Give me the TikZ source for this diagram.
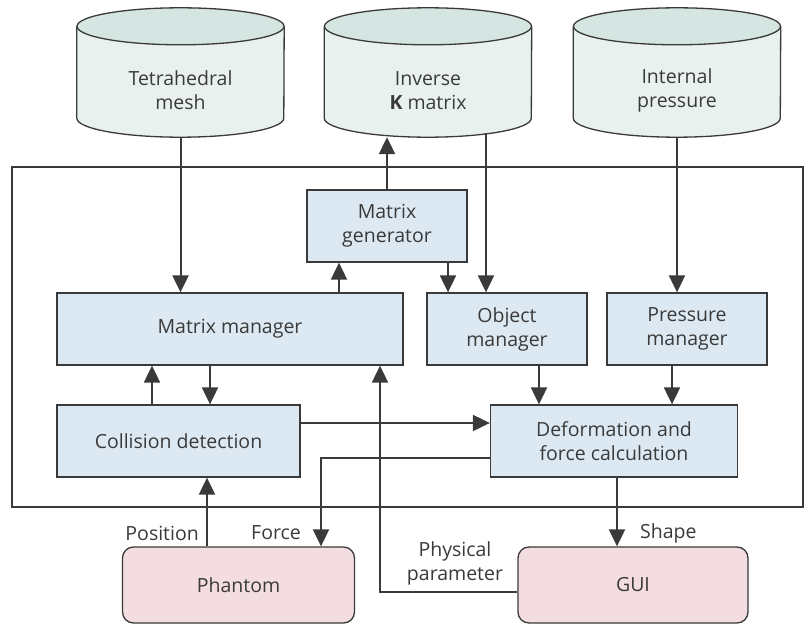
\documentclass[tikz,border=0pt]{standalone}
\usepackage{fontspec}
\setmainfont{Open Sans}
\usetikzlibrary{arrows.meta,backgrounds,positioning}
\definecolor{ink}{HTML}{3A3A3A}
\definecolor{boxblue}{HTML}{DDE9F2}
\definecolor{storebody}{HTML}{E9F1EF}
\definecolor{storetop}{HTML}{D5E5E1}
\definecolor{devpink}{HTML}{F4DDE0}
\tikzset{
  box/.style={draw=ink, line width=1.3pt, fill=boxblue, minimum height=72pt, align=center, inner sep=0pt},
  device/.style={box, fill=devpink, rounded corners=11pt, minimum height=76pt},
  store/.style={minimum width=207pt, minimum height=129pt, align=center, inner sep=0pt, text height=74pt},
  store body/.style={fill=storebody, draw=ink, line width=1.3pt},
  store top/.style={fill=storetop, draw=ink, line width=1.3pt},
  frame/.style={draw=ink, line width=1.5pt, minimum width=791pt, minimum height=340pt},
  arr/.style={draw=ink, line width=2pt, -{Triangle[length=17pt,width=16pt]}},
  lbl/.style={inner sep=0pt},
}
\begin{document}
\begin{tikzpicture}[x=1pt, y=-1pt, every node/.style={font=\fontsize{19.5}{24}\selectfont, text=ink}]
\useasboundingbox (0,0) rectangle (812,626);
\node[frame] (sys) at (407.5,337) {};
% data stores
\node[store] (mesh) at (180.5,72.5) {Tetrahedral\\mesh};
\node[store] (kmat) at (428,72.5) {Inverse\\\textbf{K} matrix};
\node[store] (pres) at (677,72.5) {Internal\\pressure};
\begin{scope}[on background layer]
  \fill[white] (0,0) rectangle (812,626);
  \foreach \s in {mesh,kmat,pres}{
    \path[store body] ([yshift=-18.5pt]\s.north west) -- ([yshift=19pt]\s.south west)
      arc[start angle=180, end angle=0, x radius=103.5, y radius=19] -- ([yshift=-18.5pt]\s.north east);
    \path[store top] ([yshift=-18.5pt]\s.north) ellipse[x radius=103.5, y radius=18.5];
  }
\end{scope}
% modules
\node[box, minimum width=160pt] (gen) at (387,226) {Matrix\\generator};
\node[box, minimum width=346pt] (mman) at (230,329) {Matrix manager};
\node[box, minimum width=160pt] (oman) at (507,329) {Object\\manager};
\node[box, minimum width=160pt] (pman) at (687,329) {Pressure\\manager};
\node[box, minimum width=243pt] (coll) at (178.5,441) {Collision detection};
\node[box, minimum width=247pt] (defo) at (614,441) {Deformation and\\force calculation};
% devices
\node[device, minimum width=232pt] (phan) at (238.5,585) {Phantom};
\node[device, minimum width=230pt] (gui) at (633,585) {GUI};
% flows
\draw[arr] (mesh.south) -- (mesh.south |- mman.north);
\draw[arr] (gen.north) -- (gen.north |- kmat.south);
\draw[arr] (486,0 |- kmat.south) ++(0,-4) -- (486,0 |- oman.north);
\draw[arr] (pres.south) -- (pres.south |- pman.north);
\draw[arr] (339,0 |- mman.north) -- (339,0 |- gen.south);
\draw[arr] (448,0 |- gen.south) -- (448,0 |- oman.north);
\draw[arr] (152,0 |- coll.north) -- (152,0 |- mman.south);
\draw[arr] (210,0 |- mman.south) -- (210,0 |- coll.north);
\draw[arr] (539,0 |- oman.south) -- (539,0 |- defo.north);
\draw[arr] (672,0 |- pman.south) -- (672,0 |- defo.north);
\draw[arr] ([yshift=18pt]coll.east) -- ([yshift=18pt]coll.east -| defo.west);
\draw[arr] ([yshift=-17pt]defo.west) -| (321,0 |- phan.north);
\draw[arr] (207,0 |- phan.north) -- (207,0 |- coll.south);
\draw[arr] (617,0 |- defo.south) -- (617,0 |- gui.north);
\draw[arr] ([yshift=-7pt]gui.west) -| (380,0 |- mman.south);
% labels
\node[lbl, anchor=east] (lpos) at (199,533) {Position};
\node[lbl, anchor=west] (lfor) at (251,533) {Force};
\node[lbl, anchor=west] (lsha) at (640,533) {Shape};
\node[lbl, align=center] (lpar) at (455,563) {Physical\\parameter};
\end{tikzpicture}
\end{document}
